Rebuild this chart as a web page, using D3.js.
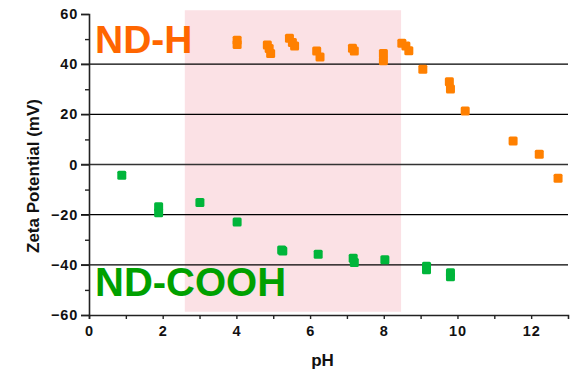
<!DOCTYPE html>
<html>
<head>
<meta charset="utf-8">
<script src="https://cdn.jsdelivr.net/npm/d3@7"></script>
<style>
  body { margin: 0; background: #fff; }
  svg { display: block; font-family: Arial, "Liberation Sans", sans-serif; }
</style>
</head>
<body>
<svg id="chart"></svg>
<script>
  //ND-H series (pH, zeta mV)
  const ndhPH   = [4.02, 4.02, 4.84, 4.89, 4.93, 5.44, 5.52, 5.58, 6.18, 6.27, 7.15, 7.2, 7.99, 7.99, 8.49, 8.6, 8.68, 9.06, 9.78, 9.81, 10.21, 11.51, 12.22, 12.73];
  const ndhZeta = [49.5, 47.8, 47.6, 46.2, 44.3, 50.3, 48.6, 47.2, 45.2, 42.9, 46.3, 45.2, 44.3, 41.4, 48.3, 47.2, 45.3, 38.0, 33.0, 30.1, 21.3, 9.4, 4.1, -5.5];

  //ND-COOH series
  const coohPH   = [0.89, 1.89, 1.89, 3.01, 4.02, 5.23, 5.26, 6.22, 7.17, 7.2, 8.03, 9.16, 9.16, 9.81, 9.81];
  const coohZeta = [-4.3, -16.8, -19.2, -15.1, -22.9, -34.1, -34.5, -35.8, -37.4, -39.1, -38.0, -40.6, -42.0, -43.2, -44.8];

  //Shaded pH range
  const bandPH = [2.6, 8.47];
  const bandZeta = [61.5, -58.7];

  const xTicks = [0, 2, 4, 6, 8, 10, 12];
  const yTicks = [-60, -40, -20, 0, 20, 40, 60];
  const gridValues = [-40, -20, 0, 20, 40];

  const width = 573, height = 372;
  const svg = d3.select('#chart').attr('width', width).attr('height', height);

  const x = d3.scaleLinear().domain([0, 13]).range([89, 568]);
  const y = d3.scaleLinear().domain([-60, 60]).range([315, 14]);

  //pink band
  svg.append('rect')
    .attr('x', x(bandPH[0]))
    .attr('width', x(bandPH[1]) - x(bandPH[0]))
    .attr('y', y(bandZeta[0]))
    .attr('height', y(bandZeta[1]) - y(bandZeta[0]))
    .attr('fill', '#fbe1e5');

  //horizontal grid lines
  svg.append('g')
    .selectAll('line')
    .data(gridValues)
    .enter().append('line')
    .attr('x1', x(0) - 8)
    .attr('x2', x(13))
    .attr('y1', d => y(d))
    .attr('y2', d => y(d))
    .attr('stroke', d => d === 0 ? '#333' : '#000')
    .attr('stroke-width', 1.4);

  //axes
  svg.append('g')
    .attr('transform', `translate(${x(0)},0)`)
    .call(d3.axisLeft(y).tickValues(yTicks).tickSize(8).tickPadding(3).tickFormat(d3.format('d')));
  svg.append('g')
    .attr('transform', `translate(${x(0)},0)`)
    .call(d3.axisLeft(y).tickValues(d3.range(-50, 60, 20)).tickSize(4).tickFormat(''))
    .call(g => g.select('.domain').remove());

  svg.append('g')
    .attr('transform', `translate(0,${y(-60)})`)
    .call(d3.axisBottom(x).tickValues(xTicks).tickSize(4).tickPadding(7));
  svg.append('g')
    .attr('transform', `translate(0,${y(-60)})`)
    .call(d3.axisBottom(x).tickValues(d3.range(1, 13, 2)).tickSize(4).tickFormat(''))
    .call(g => g.select('.domain').remove());

  svg.selectAll('.domain').attr('stroke', '#222').attr('stroke-width', 1.6);
  svg.selectAll('.tick line').attr('stroke', '#222').attr('stroke-width', 1.4);
  svg.selectAll('.tick text')
    .attr('font-size', 14.5)
    .attr('font-weight', 'bold')
    .attr('letter-spacing', 0.8)
    .attr('fill', '#111');

  //axis titles
  svg.append('text')
    .attr('x', (x(0) + x(13)) / 2 - 6)
    .attr('y', 366)
    .attr('text-anchor', 'middle')
    .attr('font-size', 17)
    .attr('font-weight', 'bold')
    .attr('fill', '#111')
    .text('pH');

  svg.append('text')
    .attr('transform', 'translate(39,176) rotate(-90)')
    .attr('text-anchor', 'middle')
    .attr('font-size', 17)
    .attr('font-weight', 'bold')
    .attr('fill', '#111')
    .text('Zeta Potential (mV)');

  //markers
  const size = 9;
  svg.append('g')
    .selectAll('rect')
    .data(d3.zip(ndhPH, ndhZeta))
    .enter().append('rect')
    .attr('x', d => x(d[0]) - size / 2)
    .attr('y', d => y(d[1]) - size / 2)
    .attr('width', size).attr('height', size)
    .attr('rx', 1.5)
    .attr('fill', '#ff8000');

  svg.append('g')
    .selectAll('rect')
    .data(d3.zip(coohPH, coohZeta))
    .enter().append('rect')
    .attr('x', d => x(d[0]) - size / 2)
    .attr('y', d => y(d[1]) - size / 2)
    .attr('width', size).attr('height', size)
    .attr('rx', 1.5)
    .attr('fill', '#00b53a');

  //series labels
  svg.append('text')
    .attr('x', 95).attr('y', 53)
    .attr('font-size', 39)
    .attr('font-weight', 'bold')
    .attr('fill', '#ff6600')
    .text('ND-H');

  svg.append('text')
    .attr('x', 95).attr('y', 296)
    .attr('font-size', 40)
    .attr('font-weight', 'bold')
    .attr('fill', '#00a000')
    .text('ND-COOH');
</script>
</body>
</html>
